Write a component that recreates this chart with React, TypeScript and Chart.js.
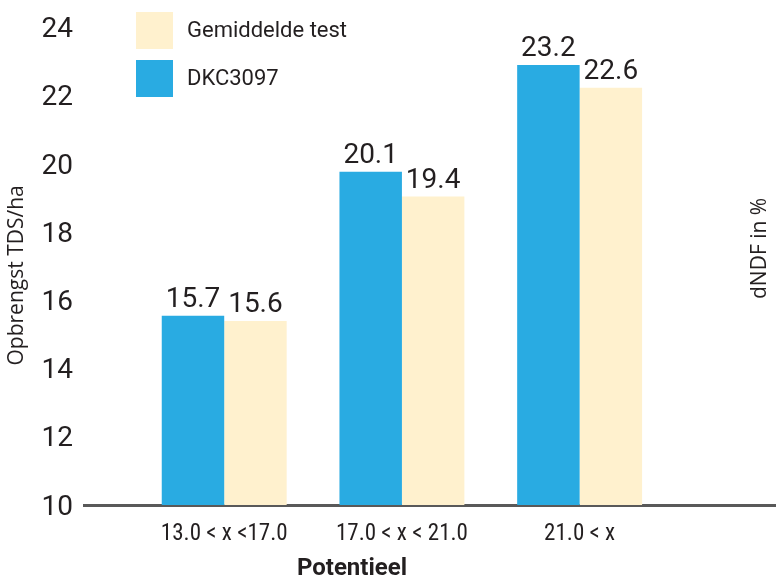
import React, { useEffect, useRef } from 'react';
import { Chart, registerables } from 'chart.js';

Chart.register(...registerables);

// ---- data ----
const categories = ['13.0 < x <17.0', '17.0 < x < 21.0', '21.0 < x'];
const dkcName = 'DKC3097';
const gemName = 'Gemiddelde test';
const dkcValues = [15.55, 19.78, 22.91];
const gemValues = [15.4, 19.05, 22.24];
const dkcLabels = ['15.7', '20.1', '23.2'];
const gemLabels = ['15.6', '19.4', '22.6'];
const legendOrder = [gemName, dkcName];
const yMin = 10;
const yMax = 24;
const yStep = 2;
const yTitle = 'Opbrengst TDS/ha';
const y2Title = 'dNDF in %';
const xTitle = 'Potentieel';

// ---- styles ----
const BLUE = '#29ABE2';
const CREAM = '#FFF1CE';
const TEXT = '#231F20';
const AXIS = '#595959';
const NARROW = "'Liberation Sans Narrow', 'Roboto Condensed', Roboto, sans-serif";

const valueLabelPlugin = {
  id: 'valueLabels',
  afterDatasetsDraw(chart: any) {
    const ctx = chart.ctx;
    ctx.save();
    ctx.font = '28px Roboto';
    ctx.fillStyle = TEXT;
    ctx.textAlign = 'center';
    ctx.textBaseline = 'alphabetic';
    chart.data.datasets.forEach((ds: any, di: number) => {
      const meta = chart.getDatasetMeta(di);
      meta.data.forEach((bar: any, i: number) => {
        ctx.fillText(ds.valueLabels[i], bar.x, bar.y - 9);
      });
    });
    ctx.restore();
  },
};

const legendPlugin = {
  id: 'customLegend',
  afterDraw(chart: any) {
    const ctx = chart.ctx;
    const left = chart.chartArea.left + 52;
    ctx.save();
    ctx.font = '22px Roboto';
    ctx.textAlign = 'left';
    ctx.textBaseline = 'alphabetic';
    legendOrder.forEach((name, i) => {
      const ds = chart.data.datasets.find((d: any) => d.label === name);
      const top = 12 + i * 48;
      ctx.fillStyle = ds.backgroundColor;
      ctx.fillRect(left, top, 37, 37);
      ctx.fillStyle = TEXT;
      ctx.fillText(name, left + 51, top + 25);
    });
    ctx.restore();
  },
};

const axisTitlesPlugin = {
  id: 'axisTitles',
  afterDraw(chart: any) {
    const ctx = chart.ctx;
    const area = chart.chartArea;
    const midY = (area.top + area.bottom) / 2;
    ctx.save();
    ctx.fillStyle = TEXT;
    ctx.textAlign = 'center';
    ctx.textBaseline = 'middle';

    // left axis title
    ctx.save();
    ctx.font = "21px 'Open Sans'";
    ctx.translate(17.5, midY + 9);
    ctx.rotate(-Math.PI / 2);
    ctx.fillText(yTitle, 0, 0);
    ctx.restore();

    // right axis title
    ctx.save();
    ctx.font = "21px 'Open Sans'";
    ctx.translate(chart.width - 16, midY - 18);
    ctx.rotate(-Math.PI / 2);
    ctx.fillText(y2Title, 0, 0);
    ctx.restore();

    // x axis title
    ctx.font = "bold 24px Roboto";
    ctx.fillText(xTitle, 352, chart.height - 12);
    ctx.restore();
  },
};

export default function App() {
  const ref = useRef<HTMLCanvasElement | null>(null);

  useEffect(() => {
    if (!ref.current) return;
    const chart = new Chart(ref.current, {
      type: 'bar',
      data: {
        datasets: [
          {
            label: dkcName,
            data: dkcValues.map((v, i) => ({ x: i, y: v })),
            backgroundColor: BLUE,
            valueLabels: dkcLabels,
          } as any,
          {
            label: gemName,
            data: gemValues.map((v, i) => ({ x: i, y: v })),
            backgroundColor: CREAM,
            valueLabels: gemLabels,
          } as any,
        ],
      },
      options: {
        animation: false,
        responsive: true,
        maintainAspectRatio: false,
        layout: { padding: { top: 25.5, left: 0, right: 0, bottom: 0 } },
        datasets: { bar: { categoryPercentage: 0.703, barPercentage: 1 } },
        plugins: { legend: { display: false }, tooltip: { enabled: false } },
        scales: {
          x: {
            type: 'linear',
            offset: false,
            bounds: 'data',
            min: -0.789,
            max: 3.105,
            grid: { display: false, drawTicks: false },
            border: { display: true, color: AXIS, width: 3 },
            afterBuildTicks: (scale: any) => {
              scale.ticks = categories.map((_, i) => ({ value: i }));
            },
            afterFit: (scale: any) => {
              scale.height = 76;
            },
            ticks: {
              autoSkip: false,
              maxRotation: 0,
              padding: 15,
              color: TEXT,
              font: { family: NARROW, size: 23 },
              callback: (v: any) => categories[v] ?? '',
            },
          },
          y: {
            type: 'linear',
            min: yMin,
            max: yMax,
            grid: { display: false, drawTicks: false },
            border: { display: false },
            afterFit: (scale: any) => {
              scale.width = 84;
            },
            ticks: {
              stepSize: yStep,
              padding: 11,
              labelOffset: 2.5,
              color: TEXT,
              font: { family: 'Roboto', size: 28 },
            },
          },
        },
      } as any,
      plugins: [valueLabelPlugin, legendPlugin, axisTitlesPlugin],
    });
    return () => chart.destroy();
  }, []);

  return (
    <div style={{ position: 'fixed', left: 0, top: 0, width: 776, height: 581, background: '#fff' }}>
      <canvas ref={ref} />
    </div>
  );
}
